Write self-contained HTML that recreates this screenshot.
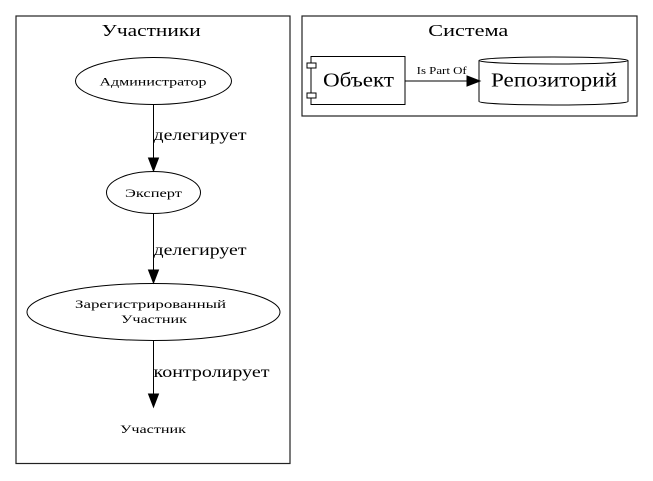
<!DOCTYPE html>
<html>
<head>
<meta charset="utf-8">
<style>
  html, body { margin: 0; padding: 0; background: #ffffff; }
  svg { display: block; }
  text { font-family: "Liberation Serif", "Noto Serif CJK SC", serif; fill: #000; }
</style>
</head>
<body>
<svg width="653" height="481" viewBox="0 0 653 481" xmlns="http://www.w3.org/2000/svg">
  <rect x="0" y="0" width="653" height="481" fill="#ffffff"/>

  <!-- Cluster: Участники -->
  <rect x="16" y="16" width="274" height="447.5" fill="none" stroke="#222" stroke-width="1.2"/>
  <text x="101.7" y="36" font-size="17" textLength="99" lengthAdjust="spacingAndGlyphs">Участники</text>

  <!-- Администратор -->
  <ellipse cx="153.5" cy="81" rx="78" ry="23.5" fill="none" stroke="#000" stroke-width="1"/>
  <text x="99.5" y="85.5" font-size="12" textLength="107" lengthAdjust="spacingAndGlyphs">Администратор</text>

  <!-- edge 1 -->
  <line x1="153.5" y1="104.5" x2="153.5" y2="158" stroke="#000" stroke-width="1"/>
  <polygon points="148.5,158 153.5,171 158.5,158" fill="#000" stroke="#000" stroke-width="1"/>
  <text x="153.5" y="140" font-size="16" textLength="93" lengthAdjust="spacingAndGlyphs">делегирует</text>

  <!-- Эксперт -->
  <ellipse cx="153.5" cy="192.5" rx="47" ry="21" fill="none" stroke="#000" stroke-width="1"/>
  <text x="125" y="197" font-size="12" textLength="57" lengthAdjust="spacingAndGlyphs">Эксперт</text>

  <!-- edge 2 -->
  <line x1="153.5" y1="213.5" x2="153.5" y2="270" stroke="#000" stroke-width="1"/>
  <polygon points="148.5,270 153.5,283 158.5,270" fill="#000" stroke="#000" stroke-width="1"/>
  <text x="153.5" y="255" font-size="16" textLength="93" lengthAdjust="spacingAndGlyphs">делегирует</text>

  <!-- Зарегистрированный Участник -->
  <ellipse cx="153.5" cy="312" rx="126.5" ry="28.5" fill="none" stroke="#000" stroke-width="1"/>
  <text x="75" y="308" font-size="12" textLength="151" lengthAdjust="spacingAndGlyphs">Зарегистрированный</text>
  <text x="121" y="323" font-size="12" textLength="66" lengthAdjust="spacingAndGlyphs">Участник</text>

  <!-- edge 3 -->
  <line x1="153.5" y1="340.5" x2="153.5" y2="394" stroke="#000" stroke-width="1"/>
  <polygon points="148.5,394 153.5,407 158.5,394" fill="#000" stroke="#000" stroke-width="1"/>
  <text x="153.5" y="377" font-size="16" textLength="116" lengthAdjust="spacingAndGlyphs">контролирует</text>

  <!-- Участник (plaintext) -->
  <text x="120" y="433" font-size="12" textLength="66" lengthAdjust="spacingAndGlyphs">Участник</text>

  <!-- Cluster: Система -->
  <rect x="302" y="16" width="335" height="100" fill="none" stroke="#222" stroke-width="1.2"/>
  <text x="428.3" y="36" font-size="17" textLength="80" lengthAdjust="spacingAndGlyphs">Система</text>

  <!-- Объект component -->
  <rect x="311" y="56.5" width="94" height="48" fill="none" stroke="#000" stroke-width="1"/>
  <rect x="307" y="63" width="9" height="5" fill="#fff" stroke="#000" stroke-width="1"/>
  <rect x="307" y="93" width="9" height="5" fill="#fff" stroke="#000" stroke-width="1"/>
  <text x="323" y="86.5" font-size="20" textLength="71" lengthAdjust="spacingAndGlyphs">Объект</text>

  <!-- Is Part Of edge -->
  <line x1="405" y1="81" x2="467" y2="81" stroke="#000" stroke-width="1"/>
  <polygon points="467,76 480,81 467,86" fill="#000" stroke="#000" stroke-width="1"/>
  <text x="416.7" y="74" font-size="10.5" textLength="50" lengthAdjust="spacingAndGlyphs">Is Part Of</text>

  <!-- Репозиторий cylinder -->
  <path d="M479,60.5 A74.5,3.5 0 0,1 628,60.5 L628,101.5 A74.5,3.5 0 0,1 479,101.5 Z" fill="none" stroke="#000" stroke-width="1"/>
  <path d="M628,60.5 A74.5,3.5 0 0,1 479,60.5" fill="none" stroke="#000" stroke-width="1"/>
  <text x="491" y="86.5" font-size="20" textLength="126" lengthAdjust="spacingAndGlyphs">Репозиторий</text>
</svg>
</body>
</html>
